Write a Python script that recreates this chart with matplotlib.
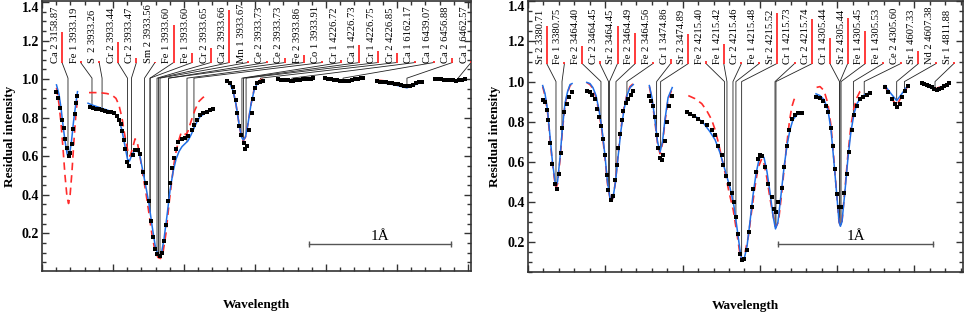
import numpy as np
import matplotlib
matplotlib.use('Agg')
import matplotlib.pyplot as plt
from matplotlib.transforms import offset_copy

plt.rcParams['font.family'] = ['Liberation Serif', 'DejaVu Serif']

# ================= LEFT PANEL DATA (x in Angstrom from left edge) =================
l1_x = [0.102, 0.116, 0.130, 0.144, 0.155, 0.165, 0.176, 0.187, 0.197, 0.208, 0.218, 0.229, 0.239, 0.250]
l1_obs = [0.935, 0.90, 0.85, 0.79, 0.745, 0.69, 0.645, 0.60, 0.615, 0.665, 0.74, 0.82, 0.875, 0.91]
l1_bx = [0.102, 0.120, 0.134, 0.148, 0.162, 0.176, 0.183, 0.194, 0.208, 0.222, 0.236, 0.250]
l1_b = [0.97, 0.92, 0.85, 0.76, 0.68, 0.615, 0.597, 0.61, 0.68, 0.78, 0.86, 0.935]
l1_rx = [0.102, 0.120, 0.134, 0.148, 0.162, 0.176, 0.187, 0.197, 0.211, 0.225, 0.239, 0.250]
l1_r = [0.955, 0.87, 0.77, 0.64, 0.5, 0.39, 0.355, 0.39, 0.52, 0.68, 0.82, 0.9]

l2_x = [0.338, 0.359, 0.380, 0.401, 0.423, 0.444, 0.465, 0.486, 0.507, 0.525, 0.539, 0.553,
        0.563, 0.574, 0.585, 0.596, 0.615, 0.639, 0.658, 0.676, 0.690, 0.713, 0.732, 0.754,
        0.768, 0.784, 0.796, 0.812, 0.829, 0.843, 0.859, 0.873, 0.889, 0.901, 0.918, 0.933,
        0.947, 0.960, 0.984, 1.007, 1.030, 1.054, 1.070, 1.089, 1.113, 1.136, 1.160, 1.183, 1.202]
l2_obs = [0.856, 0.851, 0.847, 0.843, 0.839, 0.835, 0.831, 0.827, 0.822, 0.81, 0.79, 0.765,
          0.73, 0.685, 0.64, 0.571, 0.549, 0.606, 0.632, 0.63, 0.611, 0.519, 0.459, 0.369,
          0.265, 0.179, 0.119, 0.091, 0.082, 0.10, 0.162, 0.243, 0.369, 0.459, 0.537, 0.59,
          0.635, 0.675, 0.692, 0.695, 0.704, 0.735, 0.761, 0.787, 0.813, 0.822, 0.83, 0.839, 0.843]
l2_bx = [0.324, 0.352, 0.387, 0.423, 0.458, 0.493, 0.521, 0.542, 0.563, 0.585, 0.602, 0.616,
         0.634, 0.655, 0.673, 0.690, 0.711, 0.732, 0.754, 0.775, 0.796, 0.813, 0.827, 0.842,
         0.859, 0.880, 0.901, 0.923, 0.944, 0.965, 0.986, 1.007, 1.028, 1.049, 1.070, 1.092,
         1.113, 1.141, 1.169, 1.204]
l2_b = [0.875, 0.866, 0.857, 0.848, 0.84, 0.83, 0.815, 0.79, 0.735, 0.65, 0.585, 0.575,
        0.61, 0.632, 0.63, 0.6, 0.52, 0.44, 0.35, 0.24, 0.14, 0.095, 0.085, 0.1,
        0.17, 0.29, 0.42, 0.52, 0.585, 0.625, 0.65, 0.665, 0.68, 0.71, 0.745, 0.78,
        0.805, 0.82, 0.832, 0.84]
l2_rx = [0.331, 0.373, 0.415, 0.458, 0.493, 0.521, 0.542, 0.563, 0.585, 0.606, 0.620, 0.637,
         0.655, 0.669, 0.690, 0.711, 0.732, 0.754, 0.775, 0.796, 0.817, 0.835, 0.852, 0.873,
         0.894, 0.915, 0.937, 0.958, 0.979, 0.996, 1.014, 1.028, 1.049, 1.077, 1.106, 1.134, 1.169]
l2_r = [0.93, 0.93, 0.929, 0.925, 0.917, 0.9, 0.865, 0.8, 0.7, 0.62, 0.6, 0.64,
        0.69, 0.68, 0.6, 0.5, 0.41, 0.3, 0.19, 0.11, 0.075, 0.07, 0.1, 0.2,
        0.35, 0.48, 0.6, 0.67, 0.72, 0.725, 0.71, 0.73, 0.78, 0.84, 0.885, 0.905, 0.917]

l3_x = [1.305, 1.324, 1.343, 1.352, 1.366, 1.375, 1.389, 1.401, 1.419, 1.430, 1.442, 1.460,
        1.477, 1.488, 1.500, 1.516, 1.535, 1.553]
l3_obs = [0.991, 0.981, 0.96, 0.934, 0.891, 0.822, 0.756, 0.71, 0.67, 0.64, 0.653, 0.735,
          0.822, 0.895, 0.952, 0.978, 0.986, 0.99]
l3_bx = [1.301, 1.324, 1.345, 1.366, 1.387, 1.405, 1.418, 1.433, 1.451, 1.472, 1.493, 1.514, 1.535, 1.556]
l3_b = [0.99, 0.975, 0.94, 0.87, 0.77, 0.7, 0.684, 0.7, 0.77, 0.87, 0.94, 0.975, 0.99, 0.995]
l3_r = [0.995, 0.98, 0.945, 0.87, 0.77, 0.7, 0.68, 0.7, 0.77, 0.87, 0.945, 0.98, 0.995, 1.0]

l4_x = [1.662, 1.680, 1.697, 1.715, 1.732, 1.750, 1.768, 1.785, 1.803, 1.820, 1.838, 1.856, 1.873, 1.891, 1.908]
l4_obs = [0.998, 0.997, 0.995, 0.994, 0.993, 0.992, 0.992, 0.993, 0.994, 0.996, 0.998, 1.0, 1.002, 1.003, 1.004]
l4_bx = [1.662, 1.732, 1.803, 1.873, 1.908]
l4_b = [0.997, 0.992, 0.993, 1.0, 1.003]
l4_r = [0.999, 0.994, 0.994, 1.001, 1.004]

l5_x = [1.993, 2.014, 2.035, 2.056, 2.077, 2.099, 2.120, 2.141, 2.162, 2.183, 2.204, 2.225, 2.246, 2.264]
l5_obs = [1.005, 1.003, 1.0, 0.997, 0.993, 0.99, 0.988, 0.988, 0.991, 0.995, 0.999, 1.002, 1.004, 1.005]
l5_bx = [1.993, 2.056, 2.120, 2.183, 2.264]
l5_b = [1.004, 0.996, 0.986, 0.995, 1.004]
l5_r = [1.006, 0.998, 0.989, 0.997, 1.005]

l6_x = [2.359, 2.380, 2.401, 2.423, 2.444, 2.465, 2.486, 2.507, 2.528, 2.549, 2.570, 2.592,
        2.613, 2.634, 2.655, 2.676]
l6_obs = [0.988, 0.987, 0.985, 0.983, 0.981, 0.979, 0.976, 0.973, 0.969, 0.965, 0.962, 0.965,
          0.972, 0.978, 0.983, 0.987]
l6_bx = [2.359, 2.423, 2.486, 2.549, 2.570, 2.613, 2.676]
l6_b = [0.985, 0.978, 0.97, 0.958, 0.955, 0.967, 0.985]
l6_r = [0.995, 0.99, 0.98, 0.965, 0.962, 0.97, 0.988]

l7_x = [2.768, 2.789, 2.810, 2.831, 2.852, 2.873, 2.894, 2.915, 2.937, 2.958, 2.979]
l7_obs = [1.0, 1.0, 0.998, 0.997, 0.995, 0.994, 0.993, 0.992, 0.994, 0.997, 0.999]
l7_bx = [2.768, 2.831, 2.894, 2.937, 2.979]
l7_b = [0.998, 0.995, 0.991, 0.993, 0.998]
l7_r = [1.0, 0.997, 0.993, 0.995, 0.999]

left_names = ['Ca 2 3158.87', 'Fe 1 3933.19', 'S  2 3933.26', 'Cr 2 3933.44', 'Cr 2 3933.47',
              'Sm 2 3933.56', 'Fe 1 3933.60', 'Fe 1 3933.60', 'Cr 2 3933.65', 'Ca 2 3933.66',
              'Mn 1 3933.67', 'Ce 2 3933.73', 'Ce 2 3933.73', 'Fe 2 3933.86', 'Co 1 3933.91',
              'Cr 1 4226.72', 'Ca 1 4226.73', 'Cr 1 4226.75', 'Cr 2 4226.85', 'Ca 1 6162.17',
              'Ca 1 6439.07', 'Ca 2 6456.88', 'Ca 1 6462.57']
left_strength = [1.243, 1.095, 1.095, 1.192, 1.109, 1.09, 1.28, 1.135, 1.161, 1.358, 1.095,
                 1.095, 1.109, 1.124, 1.095, 1.098, 1.176, 1.145, 1.135, 1.095, 1.095, 1.109, 1.095]
left_linepos = [0.183, 0.352, 0.423, 0.602, 0.630, 0.722, 0.761, 0.761, 0.810, 0.820, 0.831,
                0.891, 0.891, 1.021, 1.070, 1.408, 1.419, 1.437, 1.539, 1.760, 2.120, 2.570, 2.930]

# ================= RIGHT PANEL DATA =================
r1_x = [0.095, 0.110, 0.120, 0.127, 0.142, 0.157, 0.175, 0.186, 0.202, 0.212, 0.222, 0.235, 0.250, 0.265, 0.283]
r1_obs = [0.909, 0.897, 0.86, 0.806, 0.693, 0.59, 0.49, 0.466, 0.537, 0.643, 0.77, 0.847, 0.889, 0.922, 0.947]
r1_bx = [0.095, 0.110, 0.126, 0.142, 0.158, 0.175, 0.181, 0.191, 0.207, 0.223, 0.239, 0.256, 0.272, 0.285]
r1_b = [0.98, 0.94, 0.86, 0.73, 0.6, 0.5, 0.48, 0.5, 0.62, 0.77, 0.89, 0.95, 0.985, 0.99]
r1_r = [0.975, 0.93, 0.85, 0.72, 0.59, 0.49, 0.47, 0.49, 0.61, 0.76, 0.88, 0.945, 0.98, 0.99]

r2_x = [0.380, 0.401, 0.417, 0.433, 0.448, 0.459, 0.472, 0.483, 0.498, 0.509, 0.519, 0.535,
        0.548, 0.563, 0.574, 0.584, 0.595, 0.606, 0.616, 0.634, 0.649, 0.666, 0.681]
r2_obs = [0.952, 0.947, 0.935, 0.914, 0.864, 0.822, 0.776, 0.715, 0.632, 0.532, 0.457, 0.408,
          0.427, 0.507, 0.582, 0.67, 0.74, 0.81, 0.852, 0.892, 0.914, 0.935, 0.955]
r2_bx = [0.380, 0.401, 0.420, 0.440, 0.459, 0.479, 0.498, 0.514, 0.530, 0.540, 0.550, 0.566,
         0.582, 0.602, 0.621, 0.640, 0.660, 0.681]
r2_b = [0.996, 0.99, 0.97, 0.93, 0.86, 0.76, 0.63, 0.5, 0.42, 0.41, 0.42, 0.5, 0.62, 0.76, 0.86, 0.93, 0.97, 0.985]
r2_r = [0.995, 0.985, 0.965, 0.92, 0.85, 0.75, 0.62, 0.49, 0.42, 0.40, 0.42, 0.5, 0.63, 0.77, 0.87, 0.935, 0.975, 0.99]

r3_x = [0.785, 0.796, 0.810, 0.821, 0.832, 0.843, 0.854, 0.865, 0.875, 0.886, 0.897, 0.912, 0.930]
r3_obs = [0.93, 0.905, 0.88, 0.822, 0.731, 0.67, 0.62, 0.61, 0.632, 0.703, 0.797, 0.88, 0.93]
r3_bx = [0.785, 0.802, 0.821, 0.838, 0.854, 0.870, 0.886, 0.906, 0.933]
r3_b = [0.98, 0.92, 0.81, 0.7, 0.648, 0.7, 0.81, 0.92, 0.97]
r3_r = [0.975, 0.91, 0.8, 0.69, 0.64, 0.69, 0.8, 0.91, 0.965]

r4_x = [1.027, 1.048, 1.074, 1.102, 1.124, 1.156, 1.188, 1.210, 1.231, 1.253, 1.263, 1.281,
        1.300, 1.318, 1.334, 1.345, 1.356, 1.371, 1.386, 1.399, 1.415, 1.431, 1.447, 1.457,
        1.472, 1.490, 1.501, 1.514, 1.533, 1.554, 1.576, 1.591, 1.604, 1.619, 1.641, 1.656,
        1.677, 1.690, 1.706, 1.727, 1.748, 1.770]
r4_obs = [0.847, 0.839, 0.83, 0.814, 0.797, 0.781, 0.756, 0.731, 0.681, 0.632, 0.582, 0.527,
          0.491, 0.444, 0.399, 0.324, 0.238, 0.142, 0.112, 0.117, 0.159, 0.25, 0.374, 0.466,
          0.55, 0.615, 0.632, 0.63, 0.573, 0.491, 0.424, 0.366, 0.349, 0.40, 0.471, 0.573,
          0.681, 0.756, 0.814, 0.831, 0.842, 0.845]
r4_bx = [1.027, 1.061, 1.100, 1.138, 1.177, 1.210, 1.242, 1.274, 1.307, 1.332, 1.352, 1.371,
         1.384, 1.397, 1.417, 1.436, 1.455, 1.475, 1.494, 1.510, 1.527, 1.546, 1.565, 1.585,
         1.601, 1.617, 1.636, 1.656, 1.675, 1.695, 1.714, 1.740, 1.770]
r4_b = [0.845, 0.835, 0.818, 0.79, 0.75, 0.71, 0.645, 0.56, 0.47, 0.38, 0.27, 0.16,
        0.105, 0.11, 0.18, 0.3, 0.43, 0.54, 0.61, 0.637, 0.62, 0.55, 0.45, 0.33,
        0.265, 0.3, 0.43, 0.57, 0.68, 0.76, 0.81, 0.835, 0.845]
r4_rx = [1.037, 1.080, 1.124, 1.156, 1.188, 1.210, 1.231, 1.253, 1.274, 1.300, 1.328, 1.352,
         1.371, 1.382, 1.397, 1.410, 1.425, 1.446, 1.468, 1.488, 1.512, 1.527, 1.544, 1.565,
         1.587, 1.604, 1.620, 1.641, 1.659, 1.677, 1.691, 1.706, 1.721, 1.738]
r4_r = [0.93, 0.915, 0.89, 0.855, 0.81, 0.76, 0.697, 0.62, 0.548, 0.45, 0.358, 0.24,
        0.14, 0.109, 0.12, 0.17, 0.225, 0.35, 0.474, 0.57, 0.615, 0.59, 0.524, 0.42,
        0.325, 0.275, 0.3, 0.441, 0.58, 0.706, 0.8, 0.872, 0.91, 0.93]

r5_x = [1.863, 1.889, 1.910, 1.928, 1.942, 1.957, 1.971, 1.986, 2.001, 2.014, 2.025, 2.046,
        2.061, 2.076, 2.094, 2.109, 2.128, 2.147, 2.169, 2.191, 2.212]
r5_obs = [0.925, 0.917, 0.905, 0.88, 0.847, 0.77, 0.681, 0.565, 0.441, 0.374, 0.374, 0.444,
          0.537, 0.65, 0.756, 0.831, 0.88, 0.914, 0.922, 0.934, 0.943]
r5_bx = [1.863, 1.889, 1.915, 1.940, 1.960, 1.979, 1.999, 2.012, 2.021, 2.031, 2.050, 2.070,
         2.089, 2.109, 2.128, 2.154, 2.180, 2.217]
r5_b = [0.939, 0.93, 0.91, 0.86, 0.76, 0.6, 0.42, 0.3, 0.278, 0.3, 0.45, 0.62, 0.75, 0.84, 0.89, 0.92, 0.935, 0.947]
r5_rx = [1.867, 1.889, 1.915, 1.940, 1.960, 1.979, 1.999, 2.012, 2.021, 2.031, 2.050, 2.070,
         2.089, 2.109, 2.128, 2.147, 2.169]
r5_r = [0.971, 0.975, 0.955, 0.89, 0.78, 0.61, 0.42, 0.3, 0.28, 0.3, 0.46, 0.64, 0.78, 0.87, 0.92, 0.95, 0.96]

r6_x = [2.309, 2.331, 2.353, 2.374, 2.389, 2.406, 2.421, 2.439, 2.456]
r6_obs = [0.972, 0.947, 0.914, 0.889, 0.872, 0.889, 0.922, 0.955, 0.98]
r6_bx = [2.309, 2.348, 2.385, 2.419, 2.456]
r6_b = [0.98, 0.94, 0.905, 0.94, 0.98]
r6_r = [0.975, 0.92, 0.88, 0.93, 0.975]

r7_x = [2.547, 2.561, 2.579, 2.594, 2.611, 2.626, 2.644, 2.659, 2.676, 2.691, 2.708, 2.725]
r7_obs = [0.991, 0.988, 0.985, 0.978, 0.972, 0.965, 0.959, 0.963, 0.969, 0.977, 0.985, 0.991]
r7_bx = [2.547, 2.588, 2.633, 2.678, 2.725]
r7_b = [0.99, 0.975, 0.96, 0.975, 0.99]
r7_r = [0.992, 0.978, 0.963, 0.977, 0.991]

right_names = ['Sr 2 3380.71', 'Fe 1 3380.75', 'Fe 2 3464.40', 'Cr 2 3464.45', 'Sr 2 3464.45',
               'Fe 2 3464.49', 'Fe 2 3464.56', 'Cr 1 3474.86', 'Sr 2 3474.89', 'Fe 2 4215.40',
               'Fe 1 4215.42', 'Cr 2 4215.46', 'Fe 1 4215.48', 'Sr 2 4215.52', 'Cr 1 4215.73',
               'Cr 2 4215.74', 'Cr 1 4305.44', 'Sr 2 4305.44', 'Fe 1 4305.45', 'Fe 1 4305.53',
               'Ce 2 4305.60', 'Sr 1 4607.33', 'Nd 2 4607.38', 'Sr 1 4811.88']
right_strength = [1.279, 1.10, 1.179, 1.105, 1.279, 1.244, 1.10, 1.114, 1.239, 1.105, 1.189, 1.10,
                  1.10, 1.343, 1.10, 1.314, 1.219, 1.319, 1.254, 1.10, 1.10, 1.154, 1.10, 1.10]
right_linepos = [0.181, 0.220, 0.472, 0.521, 0.527, 0.569, 0.640, 0.832, 0.858, 1.271, 1.287, 1.326,
                 1.345, 1.382, 1.598, 1.604, 2.015, 2.018, 2.025, 2.105, 2.175, 2.385, 2.435, 2.633]

# ================= FIGURE =================
fig = plt.figure(figsize=(9.65, 3.13), dpi=100)
axL = fig.add_axes([0.04352, 0.13419, 0.44456, 0.86262])
axR = fig.add_axes([0.54715, 0.13099, 0.45078, 0.86581])

BLUE = '#1f6fe8'
RED = '#ff2b2b'


def draw_panel(ax, segs, names, strengths, linepos, xlim, ylim, lab_x0, lab_x1,
               y_base, y_knee, bar):
    allb = []
    for s in segs:
        allb.append((s[2][0], s[2][-1], s[2], s[3]))
    pos = np.linspace(lab_x0, lab_x1, len(names))
    trans = offset_copy(ax.transData, fig=fig, x=-1.5, y=0, units='points')
    for p, nm, st, lx in zip(pos, names, strengths, linepos):
        yend = y_knee
        for (a, b, bx, by) in allb:
            if a <= lx <= b:
                yend = min(y_knee, float(np.interp(lx, bx, by)))
        ax.plot([p, lx, lx], [y_base, y_knee, yend], color='#222222', lw=0.6, zorder=2)
        ax.plot([p, p], [y_base, st], color=RED, lw=1.3, zorder=3, solid_capstyle='butt')
        ax.text(p, y_base, nm, rotation=90, ha='right', va='bottom', fontsize=7.6,
                transform=trans, zorder=4)
    for s in segs:
        ox, oy, bx, by, rx, ry = s
        ax.plot(rx, ry, color=RED, lw=1.2, dashes=(4.5, 3), zorder=4)
        ax.plot(bx, by, color=BLUE, lw=1.1, zorder=5)
        ax.plot(ox, oy, ls='none', marker='s', ms=2.3, mew=0, color='black', zorder=6)
    bx0, bx1, by0 = bar
    ax.plot([bx0, bx1], [by0, by0], color='#555555', lw=1.0, marker='|', ms=5, mew=1.0, zorder=3)
    ax.text((bx0 + bx1) / 2, by0 + 0.005, '1Å', ha='center', va='bottom', fontsize=11, zorder=3)

    ax.set_xlim(*xlim)
    ax.set_ylim(*ylim)
    ax.set_xticks(np.arange(0, xlim[1] + 1e-6, 0.5))
    ax.set_xticks(np.arange(0, xlim[1] + 1e-6, 0.1), minor=True)
    ax.set_yticks([0.2, 0.4, 0.6, 0.8, 1.0, 1.2, 1.4])
    ax.set_yticks(np.arange(0.05, 1.401, 0.05), minor=True)
    ax.tick_params(which='both', direction='in', top=True, right=True, labelbottom=False,
                   color='#333333', width=1.0)
    ax.tick_params(which='major', length=5, pad=2, labelsize=10)
    ax.tick_params(which='minor', length=2.6)
    labs = ax.get_yticklabels()
    for lab in labs:
        lab.set_fontweight('bold')
    labs[-1].set_verticalalignment('top')
    for sp in ax.spines.values():
        sp.set_linewidth(1.2)
        sp.set_color('#333333')
    ax.set_xlabel('Wavelength', fontsize=9.5, fontweight='bold')
    ax.xaxis.set_label_coords(0.5, -0.105)
    ax.set_ylabel('Residual intensity', fontsize=9.5, fontweight='bold')
    ax.yaxis.set_label_coords(-0.061, 0.5)


left_segs = [
    (l1_x, l1_obs, l1_bx, l1_b, l1_rx, l1_r),
    (l2_x, l2_obs, l2_bx, l2_b, l2_rx, l2_r),
    (l3_x, l3_obs, l3_bx, l3_b, l3_bx, l3_r),
    (l4_x, l4_obs, l4_bx, l4_b, l4_bx, l4_r),
    (l5_x, l5_obs, l5_bx, l5_b, l5_bx, l5_r),
    (l6_x, l6_obs, l6_bx, l6_b, l6_bx, l6_r),
    (l7_x, l7_obs, l7_bx, l7_b, l7_bx, l7_r),
]
right_segs = [
    (r1_x, r1_obs, r1_bx, r1_b, r1_bx, r1_r),
    (r2_x, r2_obs, r2_bx, r2_b, r2_bx, r2_r),
    (r3_x, r3_obs, r3_bx, r3_b, r3_bx, r3_r),
    (r4_x, r4_obs, r4_bx, r4_b, r4_rx, r4_r),
    (r5_x, r5_obs, r5_bx, r5_b, r5_rx, r5_r),
    (r6_x, r6_obs, r6_bx, r6_b, r6_bx, r6_r),
    (r7_x, r7_obs, r7_bx, r7_b, r7_bx, r7_r),
]

draw_panel(axL, left_segs, left_names, left_strength, left_linepos,
           (0, 3.021), (0.005, 1.405), 0.141, 3.021, 1.086, 1.005, (1.882, 2.878, 0.145))
draw_panel(axR, right_segs, right_names, right_strength, right_linepos,
           (0, 2.814), (0.05, 1.402), 0.121, 2.755, 1.09, 1.0, (1.619, 2.618, 0.189))

fig.savefig('out.png', dpi=100)
